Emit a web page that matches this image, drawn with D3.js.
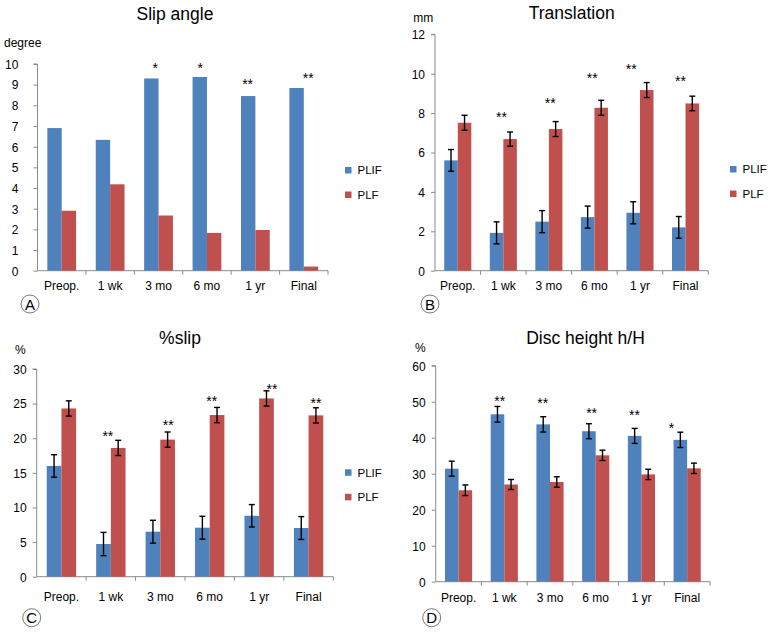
<!DOCTYPE html>
<html>
<head>
<meta charset="utf-8">
<script src="https://cdn.jsdelivr.net/npm/d3@7"></script>
<style>
  html, body { margin: 0; padding: 0; background: #fff; }
  svg { display: block; font-family: "Liberation Sans", Arial, sans-serif; }
</style>
</head>
<body>
<svg id="chart" width="770" height="633"></svg>
<script>
// ---------- data ----------
const categories = ["Preop.", "1 wk", "3 mo", "6 mo", "1 yr", "Final"];
const seriesNames = ["PLIF", "PLF"];

const slipAnglePLIF = [6.9, 6.33, 9.3, 9.37, 8.45, 8.84];
const slipAnglePLF  = [2.9, 4.18, 2.67, 1.83, 1.97, 0.2];

const translationPLIF    = [5.6, 1.92, 2.49, 2.72, 2.94, 2.2];
const translationPLIFErr = [0.55, 0.56, 0.56, 0.56, 0.56, 0.55];
const translationPLF     = [7.51, 6.68, 7.19, 8.27, 9.17, 8.49];
const translationPLFErr  = [0.38, 0.36, 0.38, 0.38, 0.38, 0.37];

const slipPctPLIF    = [16.0, 4.72, 6.5, 7.08, 8.8, 7.03];
const slipPctPLIFErr = [1.62, 1.68, 1.65, 1.65, 1.62, 1.65];
const slipPctPLF     = [24.3, 18.6, 19.8, 23.35, 25.75, 23.3];
const slipPctPLFErr  = [1.1, 1.1, 1.1, 1.1, 1.1, 1.1];

const discPLIF    = [31.4, 46.5, 43.7, 41.8, 40.5, 39.4];
const discPLIFErr = [2.08, 2.18, 2.13, 2.08, 2.08, 2.13];
const discPLF     = [25.4, 27.0, 27.7, 35.1, 29.8, 31.5];
const discPLFErr  = [1.48, 1.39, 1.44, 1.44, 1.44, 1.44];

// significance markers: label, category, value height (data units), position within band
const slipAngleStars   = [["*", "3 mo", 9.95, 0.43], ["*", "6 mo", 9.95, 0.36], ["**", "1 yr", 9.15, 0.34], ["**", "Final", 9.47, 0.59]];
const translationStars = [["**", "1 wk", 7.95, 0.46], ["**", "3 mo", 8.66, 0.53], ["**", "6 mo", 9.93, 0.45], ["**", "1 yr", 10.39, 0.31], ["**", "Final", 9.78, 0.39]];
const slipPctStars     = [["**", "1 wk", 20.77, 0.44], ["**", "3 mo", 22.36, 0.66], ["**", "6 mo", 25.8, 0.54], ["**", "1 yr", 27.56, 0.76], ["**", "Final", 25.5, 0.65]];
const discStars        = [["**", "1 wk", 51.0, 0.40], ["**", "3 mo", 50.5, 0.34], ["**", "6 mo", 47.7, 0.41], ["**", "1 yr", 47.1, 0.35], ["*", "Final", 43.5, 0.16]];

// ---------- style ----------
const colors = { PLIF: "#4F81BD", PLF: "#C0504D" };
const axisColor = "#8a8a8a";

const svg = d3.select("#chart");

const panels = [
  { title: "Slip angle", unit: "degree", letter: "A", max: 10, step: 1,
    values: [slipAnglePLIF, slipAnglePLF], errors: null, stars: slipAngleStars,
    x0: 37.5, x1: 328, yTop: 64, yBot: 270.7, labelRight: 18.3,
    titleX: 175, titleY: 20, unitX: 4, unitY: 47, legend: [345, 167],
    circle: [30, 304], xLabelY: 290 },
  { title: "Translation", unit: "mm", letter: "B", max: 12, step: 2,
    values: [translationPLIF, translationPLF], errors: [translationPLIFErr, translationPLFErr], stars: translationStars,
    x0: 435, x1: 708.3, yTop: 34.3, yBot: 270.7, labelRight: 425,
    titleX: 571.7, titleY: 18.5, unitX: 413.3, unitY: 21.7, legend: [730, 166],
    circle: [430, 304], xLabelY: 290 },
  { title: "%slip", unit: "%", letter: "C", max: 30, step: 5,
    values: [slipPctPLIF, slipPctPLF], errors: [slipPctPLIFErr, slipPctPLFErr], stars: slipPctStars,
    x0: 36.7, x1: 333.3, yTop: 369, yBot: 576.7, labelRight: 26.7,
    titleX: 180, titleY: 343.5, unitX: 15, unitY: 354.3, legend: [345, 469.3],
    circle: [31.7, 617.7], xLabelY: 600.7 },
  { title: "Disc height h/H", unit: "%", letter: "D", max: 60, step: 10,
    values: [discPLIF, discPLF], errors: [discPLIFErr, discPLFErr], stars: discStars,
    x0: 435.7, x1: 710, yTop: 365.7, yBot: 581.7, labelRight: 425.7,
    titleX: 585.5, titleY: 344, unitX: 415, unitY: 351.7, legend: null,
    circle: [431.7, 617.7], xLabelY: 602 }
];

panels.forEach(p => {
  const g = svg.append("g");
  const x = d3.scaleBand().domain(categories).range([p.x0, p.x1]).paddingInner(0).paddingOuter(0);
  const y = d3.scaleLinear().domain([0, p.max]).range([p.yBot, p.yTop]);
  const bw = x.bandwidth() * 0.297;
  const ticks = d3.range(0, p.max + p.step / 2, p.step);

  // y axis
  const yAxis = d3.axisLeft(y).tickValues(ticks).tickSize(4).tickFormat(d3.format("d"));
  const ya = g.append("g").attr("transform", `translate(${p.x0},0)`).call(yAxis);
  ya.attr("font-family", null).attr("font-size", null);
  ya.select(".domain").attr("stroke", axisColor).attr("d", `M-4,${p.yTop}H0V${p.yBot}`);
  ya.selectAll(".tick line").attr("stroke", axisColor);
  ya.selectAll(".tick text").attr("x", p.labelRight - p.x0).attr("dy", "0.36em")
    .attr("fill", "#000").style("font-size", "12px");

  // x axis
  const xa = g.append("g").attr("transform", `translate(0,${p.yBot})`);
  xa.append("line").attr("x1", p.x0).attr("x2", p.x1).attr("y1", 0).attr("y2", 0).attr("stroke", axisColor);
  xa.selectAll("line.tk").data(categories).enter().append("line").attr("class", "tk")
    .attr("x1", d => x(d) + x.bandwidth()).attr("x2", d => x(d) + x.bandwidth())
    .attr("y1", 0).attr("y2", 4).attr("stroke", axisColor);
  xa.selectAll("text").data(categories).enter().append("text")
    .attr("x", d => x(d) + x.bandwidth() / 2).attr("y", p.xLabelY - p.yBot)
    .attr("text-anchor", "middle").style("font-size", "12px").attr("fill", "#000").text(d => d);

  // bars
  seriesNames.forEach((s, si) => {
    const vals = p.values[si];
    g.selectAll(null).data(vals).enter().append("rect")
      .attr("x", (d, i) => x(categories[i]) + x.bandwidth() / 2 - bw + si * bw)
      .attr("y", d => y(d)).attr("width", bw).attr("height", d => p.yBot - y(d))
      .attr("fill", colors[s]);
  });

  // error bars
  if (p.errors) {
    seriesNames.forEach((s, si) => {
      const vals = p.values[si], errs = p.errors[si];
      vals.forEach((v, i) => {
        const cx = x(categories[i]) + x.bandwidth() / 2 - bw / 2 + si * bw;
        const hi = y(v + errs[i]), lo = y(v - errs[i]);
        const eg = g.append("g").attr("stroke", "#000").attr("stroke-width", 1.4);
        eg.append("line").attr("x1", cx).attr("x2", cx).attr("y1", hi).attr("y2", lo);
        eg.append("line").attr("x1", cx - 3).attr("x2", cx + 3).attr("y1", hi).attr("y2", hi);
        eg.append("line").attr("x1", cx - 3).attr("x2", cx + 3).attr("y1", lo).attr("y2", lo);
      });
    });
  }

  // significance stars
  g.selectAll(null).data(p.stars).enter().append("text")
    .attr("x", d => x(d[1]) + x.bandwidth() * d[3])
    .attr("y", d => y(d[2]) + 7.8)
    .attr("text-anchor", "middle").style("font-size", "14px").attr("fill", "#000")
    .text(d => d[0]);

  // title and unit
  g.append("text").attr("x", p.titleX).attr("y", p.titleY).attr("text-anchor", "middle")
    .style("font-size", "17.5px").attr("fill", "#000").text(p.title);
  g.append("text").attr("x", p.unitX).attr("y", p.unitY)
    .style("font-size", "12px").attr("fill", "#000").text(p.unit);

  // legend
  if (p.legend) {
    seriesNames.forEach((s, si) => {
      const ly = p.legend[1] + si * 24.5;
      g.append("rect").attr("x", p.legend[0]).attr("y", ly).attr("width", 6.5).attr("height", 6.5).attr("fill", colors[s]);
      g.append("text").attr("x", p.legend[0] + 12.5).attr("y", ly + 7.3)
        .style("font-size", "11.5px").attr("fill", "#000").text(s);
    });
  }

  // panel letter
  g.append("circle").attr("cx", p.circle[0]).attr("cy", p.circle[1]).attr("r", 9)
    .attr("fill", "none").attr("stroke", "#555").attr("stroke-width", 0.8);
  g.append("text").attr("x", p.circle[0]).attr("y", p.circle[1] + 5.5).attr("text-anchor", "middle")
    .style("font-size", "15px").attr("fill", "#000").text(p.letter);
});
</script>
</body>
</html>
